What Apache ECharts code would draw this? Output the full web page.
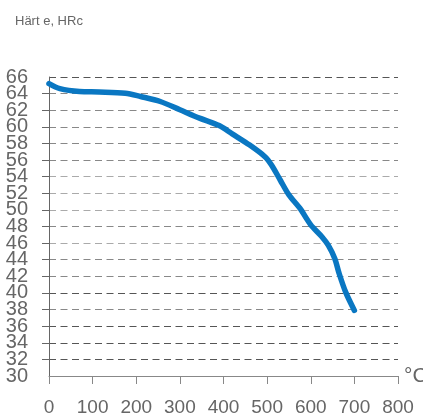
<!DOCTYPE html>
<html>
<head>
<meta charset="utf-8">
<script src="https://cdn.jsdelivr.net/npm/echarts@6/dist/echarts.min.js"></script>
<style>
  html, body { margin: 0; padding: 0; background: #fff; }
  #chart { width: 423px; height: 419px; }
</style>
</head>
<body>
<div id="chart"></div>
<script>
// Anlasskurve: Härte über Anlasstemperatur
const temps = [0, 25, 70, 115, 175, 210, 255, 300, 345, 390, 420, 460, 495, 510, 530, 550, 575, 600, 625, 640, 655, 665, 680, 700];
const hardness = [65.2, 64.6, 64.25, 64.2, 64.05, 63.65, 63.05, 62.05, 61.05, 60.15, 59.15, 57.8, 56.4, 55.4, 53.6, 51.8, 50.2, 48.2, 46.8, 45.75, 44.15, 42.35, 40.1, 37.9];
const yLabel = "Härt e, HRc";
const xUnit = "°C";

const narrow = "'Liberation Sans Narrow', 'Arial Narrow', 'Liberation Sans', sans-serif";
// Farben der gestrichelten Hilfslinien, von 30 bis 66
const gridColors = ["#777", "#555", "#555", "#555", "#888", "#555", "#888", "#888", "#aaa", "#888",
  "#aaa", "#aaa", "#aaa", "#888", "#888", "#888", "#888", "#888", "#555"];

const chart = echarts.init(document.getElementById("chart"));
const points = temps.map((t, i) => [t, hardness[i]]);

// Die Beschriftungen stehen sehr eng, deshalb auf zwei Achsen verteilt
const yLabelStyle = { color: "#666", fontSize: 20, fontFamily: narrow, margin: 21 };

chart.setOption({
  animation: false,
  title: {
    text: yLabel,
    left: 10,
    top: 10,
    textStyle: { color: "#666", fontSize: 13, fontWeight: "normal", fontFamily: "'Liberation Sans', Arial, sans-serif" },
  },
  grid: { left: 49, right: 25, top: 77, bottom: 43, containLabel: false, outerBoundsMode: "none" },
  xAxis: {
    type: "value",
    min: 0,
    max: 800,
    interval: 100,
    name: xUnit,
    nameLocation: "end",
    nameGap: 6,
    nameTextStyle: { color: "#666", fontSize: 21, fontFamily: narrow, padding: [38, 0, 0, 0] },
    axisLine: { show: true, lineStyle: { color: "#888", width: 1 } },
    axisTick: { show: true, length: 8, lineStyle: { color: "#888" } },
    axisLabel: { color: "#666", fontSize: 19, fontFamily: narrow, margin: 22, showMinLabel: true, showMaxLabel: true },
    splitLine: { show: false },
  },
  yAxis: [
    {
      type: "value",
      position: "left",
      min: 30,
      max: 66,
      interval: 4,
      axisLine: { show: true, lineStyle: { color: "#666", width: 1 } },
      axisTick: { show: false },
      axisLabel: Object.assign({ showMinLabel: true, showMaxLabel: true }, yLabelStyle),
      splitLine: { show: false },
    },
    {
      type: "value",
      position: "left",
      offset: 0,
      min: 30,
      max: 66,
      interval: 2,
      axisLine: { show: false },
      axisTick: { show: true, length: 7, lineStyle: { color: "#666" } },
      axisLabel: Object.assign({
        showMinLabel: false,
        showMaxLabel: false,
        formatter: (v) => ((v - 30) % 4 === 2 ? String(v) : ""),
      }, yLabelStyle),
      splitLine: {
        show: true,
        lineStyle: { color: gridColors, type: [7, 4.5], width: 1 },
      },
    },
  ],
  series: [
    {
      type: "line",
      yAxisIndex: 0,
      data: points,
      smooth: 0.3,
      showSymbol: false,
      lineStyle: { color: "#0a77c2", width: 5.5, cap: "round", join: "round" },
      itemStyle: { color: "#0a77c2" },
    },
  ],
});
</script>
</body>
</html>
